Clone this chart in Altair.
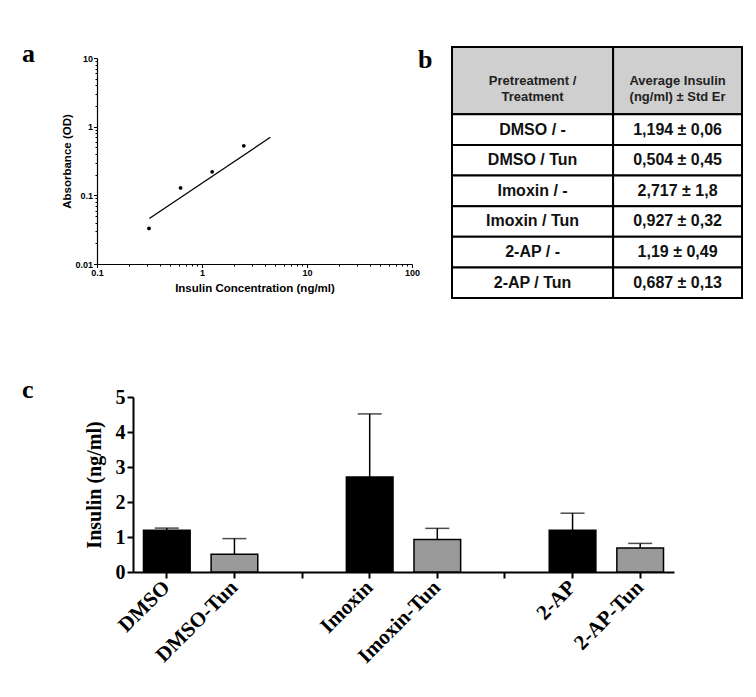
import altair as alt
import pandas as pd

# ---------------- data ----------------
# panel a: standard curve
std_conc = [0.3125, 0.625, 1.25, 2.5]
std_od = [0.033, 0.128, 0.22, 0.526]
fit_conc = [0.315, 4.48]
fit_od = [0.046, 0.70]
x_major = [0.1, 1, 10, 100]
y_major = [0.01, 0.1, 1, 10]

# panel b / c: treatments
table_labels = ["DMSO / -", "DMSO / Tun", "Imoxin / -", "Imoxin / Tun", "2-AP / -", "2-AP / Tun"]
bar_labels = ["DMSO", "DMSO-Tun", "Imoxin", "Imoxin-Tun", "2-AP", "2-AP-Tun"]
bar_kind = ["ctrl", "tun", "ctrl", "tun", "ctrl", "tun"]
means = [1.194, 0.504, 2.717, 0.927, 1.19, 0.687]
std_err = [0.06, 0.45, 1.8, 0.32, 0.49, 0.13]
header_labels = ["Pretreatment /\nTreatment", "Average Insulin\n(ng/ml) \u00b1 Std Er"]
x_slots = ["DMSO", "DMSO-Tun", " ", "Imoxin", "Imoxin-Tun", "  ", "2-AP", "2-AP-Tun"]
c_ticks = [0, 1, 2, 3, 4, 5]

# ---------------- layout / style ----------------
SANS = "Liberation Sans"
SERIF = "Liberation Serif"
W_A, H_A = 315, 217
W_B, H_B = 290, 251
W_C, H_C = 577, 175


def minor_ticks(majors):
    out = []
    for d in majors[:-1]:
        for m in range(1, 10):
            out.append(round(m * d, 6))
    out.append(majors[-1])
    return out


def major_test(majors):
    return "indexof([" + ",".join(str(v) for v in majors) + "], datum.value) >= 0"


def letter(ch, x, y):
    return alt.Chart(alt.Data(values=[{"t": ch}])).mark_text(
        text=ch, font=SERIF, fontSize=26, fontWeight="bold", align="left",
        baseline="alphabetic", color="black"
    ).encode(x=alt.value(x), y=alt.value(y))


# ---------------- panel a ----------------
pts = pd.DataFrame({"conc": std_conc, "od": std_od})
fit = pd.DataFrame({"conc": fit_conc, "od": fit_od})

xt = major_test(x_major)
yt = major_test(y_major)
axis_a_common = dict(
    grid=False, domainColor="black", tickColor="black", domainWidth=1.2, tickWidth=1,
    labelFont=SANS, labelFontWeight="bold", labelFontSize=9, labelColor="black",
    titleFont=SANS, titleFontWeight="bold", titleFontSize=11.5, titleColor="black",
    labelOverlap=False, labelFlush=False, format="~g",
)
x_axis_a = alt.Axis(
    values=minor_ticks(x_major), title="Insulin Concentration (ng/ml)",
    labelExpr=f"{xt} ? datum.label : ''",
    tickSize={"condition": {"test": xt, "value": 3.5}, "value": 2},
    labelPadding=1, titlePadding=5, **axis_a_common,
)
y_axis_a = alt.Axis(
    values=minor_ticks(y_major), title="Absorbance  (OD)",
    labelExpr=f"{yt} ? datum.label : ''",
    tickSize={"condition": {"test": yt, "value": 3.5}, "value": 2},
    labelPadding=1, titlePadding=2, **axis_a_common,
)
xs_a = alt.Scale(type="log", domain=[0.1, 100], nice=False)
ys_a = alt.Scale(type="log", domain=[0.01, 10], nice=False, range=[H_A, 11])

a_line = alt.Chart(fit).mark_line(color="black", strokeWidth=1.3).encode(
    x=alt.X("conc:Q", scale=xs_a, axis=x_axis_a),
    y=alt.Y("od:Q", scale=ys_a, axis=y_axis_a),
)
a_pts = alt.Chart(pts).mark_circle(size=14, color="black", opacity=1).encode(
    x=alt.X("conc:Q", scale=xs_a, axis=x_axis_a),
    y=alt.Y("od:Q", scale=ys_a, axis=y_axis_a),
)
panel_a = alt.layer(a_line, a_pts, letter("a", -75, 15)).properties(width=W_A, height=H_A)

# ---------------- panel b (table) ----------------
col_edges = [0, 1.25, 2.25]
header_h = 2.2
total_h = header_h + len(table_labels)

def fmt(v):
    return str(v).replace(".", ",")

cells = []
for j in range(2):
    cells.append(dict(kind="header", x0=col_edges[j], x1=col_edges[j + 1], y0=0, y1=header_h,
                      text=header_labels[j]))
for i, lab in enumerate(table_labels):
    val = f"{fmt(means[i])} \u00b1 {fmt(std_err[i])}"
    for j, t in enumerate([lab, val]):
        cells.append(dict(kind="body", x0=col_edges[j], x1=col_edges[j + 1],
                          y0=header_h + i, y1=header_h + i + 1, text=t))
cells_df = pd.DataFrame(cells)
cells_df["xc"] = (cells_df.x0 + cells_df.x1) / 2
cells_df["yc"] = (cells_df.y0 + cells_df.y1) / 2

xs_b = alt.Scale(domain=[0, col_edges[-1]], nice=False, zero=False)
ys_b = alt.Scale(domain=[0, total_h], nice=False, zero=False, reverse=True)

b_rect = alt.Chart(cells_df).mark_rect(stroke="black", strokeWidth=2).encode(
    x=alt.X("x0:Q", scale=xs_b, axis=None), x2="x1:Q",
    y=alt.Y("y0:Q", scale=ys_b, axis=None), y2="y1:Q",
    fill=alt.condition("datum.kind == 'header'", alt.value("#cfcfcf"), alt.value("#ffffff")),
)
b_body = alt.Chart(cells_df).transform_filter("datum.kind == 'body'").mark_text(
    font=SANS, fontSize=16, fontWeight="bold", color="#111111"
).encode(x=alt.X("xc:Q", scale=xs_b, axis=None), y=alt.Y("yc:Q", scale=ys_b, axis=None), text="text:N")
b_head = alt.Chart(cells_df).transform_filter("datum.kind == 'header'").mark_text(
    font=SANS, fontSize=13, fontWeight="bold", color="#222222", lineBreak="\n", lineHeight=16
).encode(x=alt.X("xc:Q", scale=xs_b, axis=None), y=alt.Y("yc:Q", scale=ys_b, axis=None), text="text:N")
panel_b = alt.layer(b_rect, b_body, b_head, letter("b", -34, 21)).properties(width=W_B, height=H_B)

# ---------------- panel c (bars) ----------------
bars_df = pd.DataFrame({"group": bar_labels, "kind": bar_kind, "mean": means, "se": std_err})
bars_df["upper"] = bars_df["mean"] + bars_df["se"]

xs_c = alt.Scale(domain=x_slots, range=[36, W_C], paddingInner=0.31, paddingOuter=0.155)
ys_c = alt.Scale(domain=[0, 5], nice=False)
x_axis_c = alt.Axis(
    title=None, grid=False, labelAngle=-45, labelAlign="right", labelBaseline="middle",
    labelFont=SERIF, labelFontSize=21, labelFontWeight="bold", labelColor="black",
    tickSize=6, tickWidth=2, domainWidth=2, domainColor="black", tickColor="black",
    labelPadding=6, labelOverlap=False,
)
y_axis_c = alt.Axis(
    values=c_ticks, title="Insulin (ng/ml)", offset=-36, grid=False,
    labelFont=SERIF, labelFontSize=20, labelFontWeight="bold", labelColor="black",
    titleFont=SERIF, titleFontSize=20, titleFontWeight="bold", titleColor="black",
    tickSize=6, tickWidth=2, domainWidth=2, domainColor="black", tickColor="black",
    labelPadding=2, titlePadding=11,
)

c_bars = alt.Chart(bars_df).mark_bar(stroke="black", strokeWidth=1.5).encode(
    x=alt.X("group:N", scale=xs_c, axis=x_axis_c, sort=x_slots),
    y=alt.Y("mean:Q", scale=ys_c, axis=y_axis_c),
    fill=alt.condition("datum.kind == 'tun'", alt.value("#9a9a9a"), alt.value("#000000")),
)
c_err = alt.Chart(bars_df).mark_rule(color="black", strokeWidth=1.5).encode(
    x=alt.X("group:N", scale=xs_c, axis=x_axis_c, sort=x_slots),
    y=alt.Y("mean:Q", scale=ys_c, axis=y_axis_c), y2="upper:Q",
)
c_cap = alt.Chart(bars_df).mark_tick(color="black", thickness=1.5, size=24).encode(
    x=alt.X("group:N", scale=xs_c, axis=x_axis_c, sort=x_slots),
    y=alt.Y("upper:Q", scale=ys_c, axis=y_axis_c),
)
panel_c = alt.layer(c_err, c_cap, c_bars, letter("c", -75, 1)).properties(width=W_C, height=H_C)

top = alt.hconcat(panel_a, panel_b, spacing=40, bounds="flush")
chart = alt.vconcat(top, panel_c, spacing=78, bounds="full").properties(
    padding={"left": 14, "top": 33, "right": 5, "bottom": 5}
).configure_view(stroke=None)

chart.save("out.html", embed_options={"renderer": "svg", "actions": False})
